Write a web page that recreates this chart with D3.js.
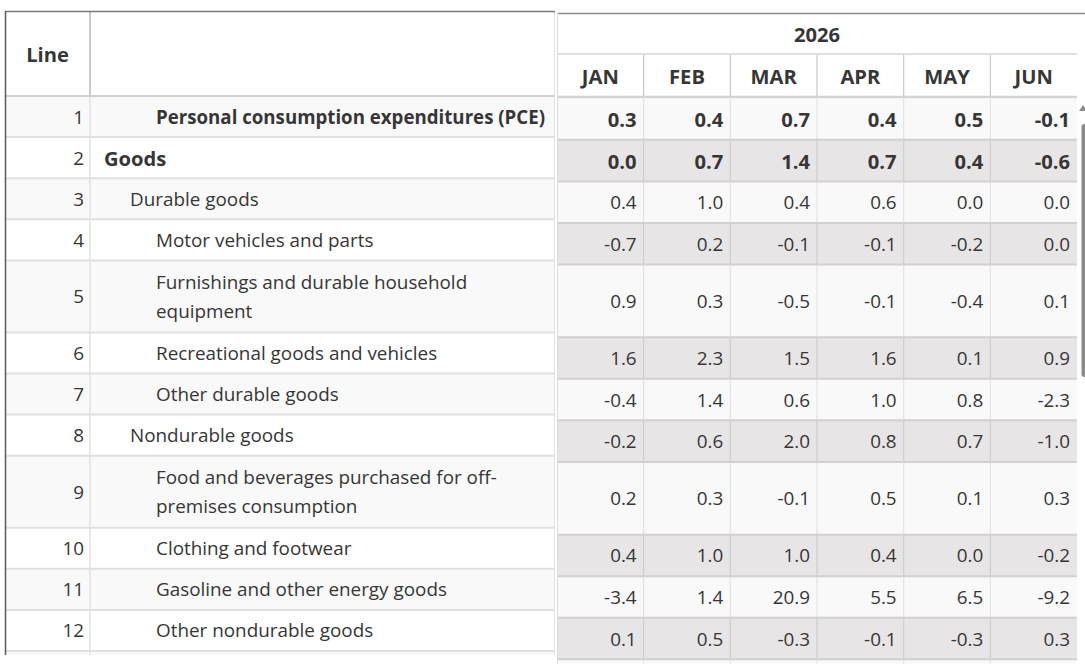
<!DOCTYPE html>
<html>
<head>
<meta charset="utf-8">
<script src="https://cdn.jsdelivr.net/npm/d3@7.9.0/dist/d3.min.js"></script>
<style>
  body { margin: 0; background: #fff; }
  svg { display: block; }
</style>
</head>
<body>
<div id="table"></div>
<script>
// ---- data ----
const year = "2026";
const months = ["JAN", "FEB", "MAR", "APR", "MAY", "JUN"];
const lineNumbers = [1, 2, 3, 4, 5, 6, 7, 8, 9, 10, 11, 12];
const labels = [
  "Personal consumption expenditures (PCE)",
  "Goods",
  "Durable goods",
  "Motor vehicles and parts",
  "Furnishings and durable household equipment",
  "Recreational goods and vehicles",
  "Other durable goods",
  "Nondurable goods",
  "Food and beverages purchased for off-premises consumption",
  "Clothing and footwear",
  "Gasoline and other energy goods",
  "Other nondurable goods"
];
const levels = [2, 0, 1, 2, 2, 2, 2, 1, 2, 2, 2, 2];
const summaryRows = [1, 2];
const jan = [0.3, 0.0, 0.4, -0.7, 0.9, 1.6, -0.4, -0.2, 0.2, 0.4, -3.4, 0.1];
const feb = [0.4, 0.7, 1.0, 0.2, 0.3, 2.3, 1.4, 0.6, 0.3, 1.0, 1.4, 0.5];
const mar = [0.7, 1.4, 0.4, -0.1, -0.5, 1.5, 0.6, 2.0, -0.1, 1.0, 20.9, -0.3];
const apr = [0.4, 0.7, 0.6, -0.1, -0.1, 1.6, 1.0, 0.8, 0.5, 0.4, 5.5, -0.1];
const may = [0.5, 0.4, 0.0, -0.2, -0.4, 0.1, 0.8, 0.7, 0.1, 0.0, 6.5, -0.3];
const jun = [-0.1, -0.6, 0.0, 0.0, 0.1, 0.9, -2.3, -1.0, 0.3, -0.2, -9.2, 0.3];
const monthValues = [jan, feb, mar, apr, may, jun];

// ---- layout ----
const width = 1085, height = 664;
const font = "'Open Sans', 'Noto Sans', sans-serif";
const textColor = "#363636";

const svg = d3.select("#table").append("svg")
  .attr("width", width)
  .attr("height", height)
  .style("font-family", font);

// calibrate font sizes so text widths match the screenshot
function measure(str, weight, size) {
  const t = svg.append("text").attr("font-size", size).attr("font-weight", weight).text(str);
  const w = t.node().getComputedTextLength();
  t.remove();
  return w;
}
const fsRegular = 100 * 291 / measure("Gasoline and other energy goods", "normal", 100);
const fsHead = 100 * 37 / measure("JAN", "bold", 100);

const isBold = i => summaryRows.includes(lineNumbers[i]);

// left (frozen) pane geometry
const L = { x0: 5, x1: 555, numRight: 90, top: 11, headBottom: 96 };
const indent = d3.scaleLinear().domain([0, 2]).range([104, 156]);

// bold labels shrink to fit on one line, regular labels wrap
function layoutLabel(label, x, bold) {
  const maxW = L.x1 - 7 - x;
  if (bold) {
    const w = measure(label, "bold", fsHead);
    return { lines: [label], size: w > maxW - 3 ? fsHead * (maxW - 3) / w : fsHead };
  }
  const tokens = label.match(/[^\s-]+-?/g);
  const lines = [];
  let cur = "";
  tokens.forEach(t => {
    const sep = cur === "" || cur.endsWith("-") ? "" : " ";
    const trial = cur + sep + t;
    if (cur && measure(trial, "normal", fsRegular) > maxW) {
      lines.push(cur);
      cur = t;
    } else cur = trial;
  });
  lines.push(cur);
  return { lines, size: fsRegular };
}

const rows = labels.map((label, i) => {
  const x = indent(levels[i]);
  const lay = layoutLabel(label, x, isBold(i));
  return { i, num: lineNumbers[i], label, x, lines: lay.lines, size: lay.size,
           h: 41.1 + 30.9 * (lay.lines.length - 1) };
});
let acc = L.headBottom;
rows.forEach(r => { r.y = acc; acc += r.h; });
const leftEnd = acc;

// right (scrolled) pane geometry: rows sit slightly lower and taller
const R = { x0: 557, x1: 1077, top: 13, yearBottom: 55, headBottom: 98.3 };
const yRight = d3.scaleLinear().domain([L.headBottom, leftEnd]).range([R.headBottom, leftEnd + 8.3]);
const xCol = d3.scaleBand().domain(months).range([R.x0, R.x1]);
const fmt = v => v.toFixed(1);

// ================= right pane =================
const right = svg.append("g");

const rRows = right.selectAll("g.rrow").data(rows).join("g").attr("class", "rrow");
rRows.append("rect")
  .attr("x", R.x0).attr("width", R.x1 - R.x0)
  .attr("y", d => yRight(d.y)).attr("height", d => yRight(d.y + d.h) - yRight(d.y))
  .attr("fill", d => d.i % 2 === 0 ? "#f9f9f9" : "#e7e5e6");

// partial next row at the bottom
right.append("rect")
  .attr("x", R.x0).attr("width", R.x1 - R.x0)
  .attr("y", yRight(leftEnd)).attr("height", height - yRight(leftEnd))
  .attr("fill", "#f9f9f9");

// cell vertical borders
rRows.selectAll("line.v").data(d => months.slice(1).map(m => ({ m, r: d }))).join("line")
  .attr("class", "v")
  .attr("x1", d => xCol(d.m)).attr("x2", d => xCol(d.m))
  .attr("y1", d => yRight(d.r.y)).attr("y2", d => yRight(d.r.y + d.r.h))
  .attr("stroke", d => d.r.i % 2 === 0 ? "#e3e3e3" : "#cfcdce").attr("stroke-width", 1.2);
right.selectAll("line.vb").data(months.slice(1)).join("line")
  .attr("class", "vb")
  .attr("x1", d => xCol(d)).attr("x2", d => xCol(d))
  .attr("y1", yRight(leftEnd)).attr("y2", height)
  .attr("stroke", "#e3e3e3");

// row borders
right.selectAll("line.h").data(rows.slice(1).map(r => r.y).concat([leftEnd])).join("line")
  .attr("class", "h")
  .attr("x1", R.x0).attr("x2", R.x1)
  .attr("y1", d => yRight(d)).attr("y2", d => yRight(d))
  .attr("stroke", "#d2d0d1").attr("stroke-width", 2);

// values
rRows.selectAll("text").data(d => monthValues.map((vals, j) => ({ m: months[j], v: vals[d.i], r: d }))).join("text")
  .attr("x", d => xCol(d.m) + xCol.bandwidth() - 7)
  .attr("y", d => (yRight(d.r.y) + yRight(d.r.y + d.r.h)) / 2)
  .attr("text-anchor", "end")
  .attr("dominant-baseline", "central")
  .attr("font-size", d => isBold(d.r.i) ? fsHead : fsRegular)
  .attr("font-weight", d => isBold(d.r.i) ? "bold" : "normal")
  .attr("fill", textColor)
  .text(d => fmt(d.v));

// header
right.append("rect").attr("x", R.x0).attr("y", R.top).attr("width", width - R.x0).attr("height", R.headBottom - R.top).attr("fill", "#fff");
right.append("text")
  .attr("x", (R.x0 + R.x1) / 2).attr("y", (R.top + R.yearBottom) / 2)
  .attr("text-anchor", "middle").attr("dominant-baseline", "central")
  .attr("font-size", fsHead).attr("font-weight", "bold").attr("fill", textColor)
  .text(year);
right.append("line")
  .attr("x1", R.x0).attr("x2", R.x1).attr("y1", R.yearBottom - 1).attr("y2", R.yearBottom - 1)
  .attr("stroke", "#d6d6d6").attr("stroke-width", 1.5);
right.selectAll("line.hv").data(months.slice(1)).join("line")
  .attr("class", "hv")
  .attr("x1", d => xCol(d)).attr("x2", d => xCol(d))
  .attr("y1", R.yearBottom).attr("y2", R.headBottom - 2)
  .attr("stroke", "#c8c8c8").attr("stroke-width", 1.2);
right.selectAll("text.month").data(months).join("text")
  .attr("class", "month")
  .attr("x", d => xCol(d) + xCol.bandwidth() / 2)
  .attr("y", (R.yearBottom + R.headBottom) / 2 - 1)
  .attr("text-anchor", "middle").attr("dominant-baseline", "central")
  .attr("font-size", fsHead).attr("font-weight", "bold").attr("fill", textColor)
  .text(d => d);
right.append("line")
  .attr("x1", R.x0).attr("x2", R.x1).attr("y1", R.headBottom - 1.2).attr("y2", R.headBottom - 1.2)
  .attr("stroke", "#d4d4d4").attr("stroke-width", 2.5);
right.append("line")
  .attr("x1", R.x0).attr("x2", width).attr("y1", R.top + 0.5).attr("y2", R.top + 0.5)
  .attr("stroke", "#8a8a8a").attr("stroke-width", 1.5);
right.append("line")
  .attr("x1", R.x0 + 0.5).attr("x2", R.x0 + 0.5).attr("y1", R.top).attr("y2", height)
  .attr("stroke", "#dcdcdc");

// scrollbar
right.append("rect").attr("x", R.x1).attr("y", R.headBottom).attr("width", width - R.x1).attr("height", height - R.headBottom).attr("fill", "#fff");
right.append("rect").attr("x", 1081.5).attr("y", 124).attr("width", 6).attr("height", 253).attr("rx", 3).attr("fill", "#8c8c8c");
right.append("path").attr("d", "M1079,111 L1083,105 L1087,111 Z").attr("fill", "#8c8c8c");

// ================= left pane =================
const left = svg.append("g");
left.append("rect").attr("x", L.x0).attr("y", L.top).attr("width", L.x1 - L.x0).attr("height", leftEnd + 4 - L.top).attr("fill", "#fff");

const lRows = left.selectAll("g.lrow").data(rows).join("g").attr("class", "lrow");
lRows.append("rect")
  .attr("x", L.x0).attr("width", L.x1 - L.x0)
  .attr("y", d => d.y).attr("height", d => d.h)
  .attr("fill", d => d.i % 2 === 0 ? "#f9f9f9" : "#fff");
left.append("rect").attr("x", L.x0).attr("width", L.x1 - L.x0).attr("y", leftEnd).attr("height", 4).attr("fill", "#f9f9f9");

left.selectAll("line.h").data(rows.slice(1).map(r => r.y).concat([leftEnd])).join("line")
  .attr("class", "h")
  .attr("x1", L.x0).attr("x2", L.x1)
  .attr("y1", d => d).attr("y2", d => d)
  .attr("stroke", "#e0e0e0").attr("stroke-width", 2);

lRows.append("text")
  .attr("x", L.numRight - 6)
  .attr("y", d => d.y + d.h / 2)
  .attr("text-anchor", "end").attr("dominant-baseline", "central")
  .attr("font-size", fsRegular).attr("fill", textColor)
  .text(d => d.num);

lRows.each(function(d) {
  const g = d3.select(this);
  const lineGap = 29.5;
  const y0 = d.y + d.h / 2 - (d.lines.length - 1) * lineGap / 2;
  g.selectAll("text.label").data(d.lines).join("text")
    .attr("class", "label")
    .attr("x", d.x)
    .attr("y", (s, k) => y0 + k * lineGap)
    .attr("dominant-baseline", "central")
    .attr("font-size", d.size)
    .attr("font-weight", isBold(d.i) ? "bold" : "normal")
    .attr("fill", textColor)
    .text(s => s);
});

// left header
left.append("text")
  .attr("x", (L.x0 + L.numRight) / 2).attr("y", (L.top + L.headBottom) / 2)
  .attr("text-anchor", "middle").attr("dominant-baseline", "central")
  .attr("font-size", fsHead).attr("font-weight", "bold").attr("fill", textColor)
  .text("Line");
left.append("line")
  .attr("x1", L.numRight).attr("x2", L.numRight).attr("y1", L.top).attr("y2", L.headBottom)
  .attr("stroke", "#a8a8a8").attr("stroke-width", 1.2);
left.append("line")
  .attr("x1", L.numRight).attr("x2", L.numRight).attr("y1", L.headBottom).attr("y2", leftEnd + 4)
  .attr("stroke", "#e0e0e0").attr("stroke-width", 1.5);
left.append("line")
  .attr("x1", L.x0).attr("x2", L.x1).attr("y1", L.headBottom).attr("y2", L.headBottom)
  .attr("stroke", "#cfcfcf").attr("stroke-width", 2);
left.append("line")
  .attr("x1", L.x1 - 0.5).attr("x2", L.x1 - 0.5).attr("y1", L.top).attr("y2", leftEnd + 4)
  .attr("stroke", "#e2e2e2");
left.append("line")
  .attr("x1", L.x0).attr("x2", L.x1).attr("y1", L.top + 0.5).attr("y2", L.top + 0.5)
  .attr("stroke", "#7a7a7a").attr("stroke-width", 1.5);
left.append("line")
  .attr("x1", L.x0 + 0.5).attr("x2", L.x0 + 0.5).attr("y1", L.top).attr("y2", leftEnd + 4)
  .attr("stroke", "#5a5a5a").attr("stroke-width", 1.5);
</script>
</body>
</html>
